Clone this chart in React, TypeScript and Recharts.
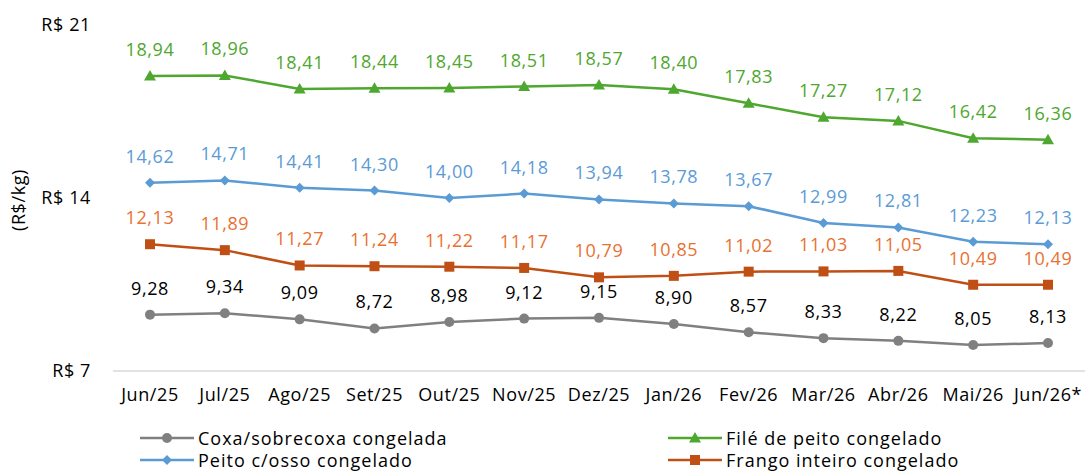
import React from 'react';
import { LineChart, Line, XAxis, YAxis, LabelList, Label } from 'recharts';

const categories = ['Jun/25', 'Jul/25', 'Ago/25', 'Set/25', 'Out/25', 'Nov/25', 'Dez/25', 'Jan/26', 'Fev/26', 'Mar/26', 'Abr/26', 'Mai/26', 'Jun/26*'];
const coxa = [9.28, 9.34, 9.09, 8.72, 8.98, 9.12, 9.15, 8.90, 8.57, 8.33, 8.22, 8.05, 8.13];
const file = [18.94, 18.96, 18.41, 18.44, 18.45, 18.51, 18.57, 18.40, 17.83, 17.27, 17.12, 16.42, 16.36];
const peito = [14.62, 14.71, 14.41, 14.30, 14.00, 14.18, 13.94, 13.78, 13.67, 12.99, 12.81, 12.23, 12.13];
const frango = [12.13, 11.89, 11.27, 11.24, 11.22, 11.17, 10.79, 10.85, 11.02, 11.03, 11.05, 10.49, 10.49];
const yTicks = [7, 14, 21];

const data = categories.map((c, i) => ({ cat: c, coxa: coxa[i], file: file[i], peito: peito[i], frango: frango[i] }));

const FONT = 'Open Sans, Liberation Sans, sans-serif';
const GRAY = '#808080';
const GREEN = '#4EA72E';
const BLUE = '#5B9BD5';
const ORANGE = '#C04F15';
const ORANGE_LBL = '#E97132';
const FS = 18;
const LS = 0.6;

const fmt = (v: any) => Number(v).toFixed(2).replace('.', ',');

const CircleDot = (p: any) => <circle key={p.index} cx={p.cx} cy={p.cy} r={5} fill={GRAY} />;
const TriDot = (p: any) => (
  <polygon key={p.index} points={`${p.cx},${p.cy - 6} ${p.cx + 6},${p.cy + 4.5} ${p.cx - 6},${p.cy + 4.5}`} fill={GREEN} />
);
const DiamondDot = (p: any) => (
  <polygon key={p.index} points={`${p.cx},${p.cy - 5} ${p.cx + 5},${p.cy} ${p.cx},${p.cy + 5} ${p.cx - 5},${p.cy}`} fill={BLUE} />
);
const SquareDot = (p: any) => <rect key={p.index} x={p.cx - 5} y={p.cy - 5} width={10} height={10} fill={ORANGE} />;

const LegendItem = ({ color, shape, text }: { color: string; shape: string; text: string }) => (
  <div style={{ display: 'flex', alignItems: 'center', height: 22 }}>
    <svg width={54} height={14} style={{ marginRight: 4 }}>
      <line x1={0} y1={7} x2={54} y2={7} stroke={color} strokeWidth={2.5} />
      {shape === 'circle' && <circle cx={27} cy={7} r={5} fill={color} />}
      {shape === 'tri' && <polygon points="27,1 33,11.5 21,11.5" fill={color} />}
      {shape === 'diamond' && <polygon points="27,2 32,7 27,12 22,7" fill={color} />}
      {shape === 'square' && <rect x={22} y={2} width={10} height={10} fill={color} />}
    </svg>
    <span>{text}</span>
  </div>
);

const tickStyle = { fill: '#000', fontSize: FS, fontFamily: FONT, letterSpacing: LS };
const lblStyle = (c: string) => ({ fill: c, fontSize: FS, fontFamily: FONT, letterSpacing: LS });

export default function App() {
  return (
    <div style={{ position: 'absolute', left: 0, top: 0, width: 1089, height: 471, background: '#fff', fontFamily: FONT }}>
      <LineChart width={1089} height={471} data={data} margin={{ top: 25, right: 4, bottom: 70, left: 0 }}>
        <XAxis
          dataKey="cat"
          height={30}
          padding={{ left: 37, right: 37 }}
          tickLine={false}
          axisLine={{ stroke: '#D9D9D9', strokeWidth: 1.5 }}
          tickSize={0}
          tickMargin={17}
          interval={0}
          tick={tickStyle}
        />
        <YAxis
          width={113}
          domain={[7, 21]}
          ticks={yTicks}
          tickLine={false}
          axisLine={false}
          tickSize={0}
          tickMargin={22}
          tickFormatter={(v: any) => `R$ ${v}`}
          tick={tickStyle}
        >
          <Label value="(R$/kg)" angle={-90} position="insideLeft" offset={19} dy={2} style={{ fill: '#000', fontSize: FS, fontFamily: FONT, textAnchor: 'middle', letterSpacing: LS }} />
        </YAxis>
        <Line type="linear" dataKey="coxa" stroke={GRAY} strokeWidth={2.5} dot={CircleDot} activeDot={false} isAnimationActive={false}>
          <LabelList dataKey="coxa" position="top" offset={20} formatter={fmt} style={lblStyle('#000')} />
        </Line>
        <Line type="linear" dataKey="file" stroke={GREEN} strokeWidth={2.5} dot={TriDot} activeDot={false} isAnimationActive={false}>
          <LabelList dataKey="file" position="top" offset={20} formatter={fmt} style={lblStyle(GREEN)} />
        </Line>
        <Line type="linear" dataKey="peito" stroke={BLUE} strokeWidth={2.5} dot={DiamondDot} activeDot={false} isAnimationActive={false}>
          <LabelList dataKey="peito" position="top" offset={20} formatter={fmt} style={lblStyle(BLUE)} />
        </Line>
        <Line type="linear" dataKey="frango" stroke={ORANGE} strokeWidth={2.5} dot={SquareDot} activeDot={false} isAnimationActive={false}>
          <LabelList dataKey="frango" position="top" offset={20} formatter={fmt} style={lblStyle(ORANGE_LBL)} />
        </Line>
      </LineChart>
      <div style={{ position: 'absolute', left: 140, top: 427, fontSize: FS, letterSpacing: 1, color: '#000' }}>
        <LegendItem color={GRAY} shape="circle" text="Coxa/sobrecoxa congelada" />
        <LegendItem color={BLUE} shape="diamond" text="Peito c/osso congelado" />
      </div>
      <div style={{ position: 'absolute', left: 668, top: 427, fontSize: FS, letterSpacing: 1, color: '#000' }}>
        <LegendItem color={GREEN} shape="tri" text="Filé de peito congelado" />
        <LegendItem color={ORANGE} shape="square" text="Frango inteiro congelado" />
      </div>
    </div>
  );
}
